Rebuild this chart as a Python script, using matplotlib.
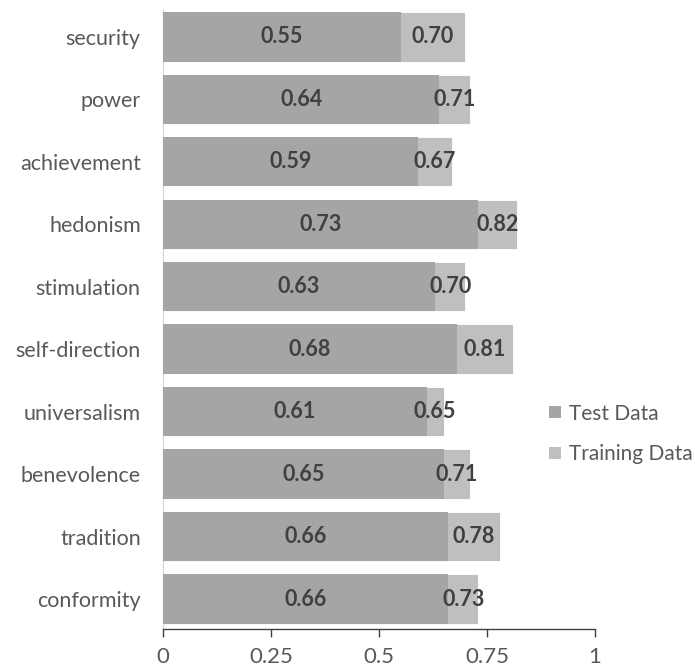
import matplotlib
matplotlib.use("Agg")
import matplotlib.pyplot as plt
import numpy as np
from matplotlib.patches import Patch

categories = ["security", "power", "achievement", "hedonism", "stimulation",
              "self-direction", "universalism", "benevolence", "tradition", "conformity"]
test_scores = [0.55, 0.64, 0.59, 0.73, 0.63, 0.68, 0.61, 0.65, 0.66, 0.66]
train_scores = [0.70, 0.71, 0.67, 0.82, 0.70, 0.81, 0.65, 0.71, 0.78, 0.73]
x_ticks = [0, 0.25, 0.5, 0.75, 1]
x_tick_labels = ["0", "0.25", "0.5", "0.75", "1"]

plt.rcParams["font.family"] = ["Lato", "DejaVu Sans"]

test_color = "#a5a5a5"
train_color = "#bfbfbf"
text_gray = "#595959"
value_color = "#404040"

fig = plt.figure(figsize=(6.95, 6.7), dpi=100)
ax = fig.add_axes([163 / 695, 1 - 629 / 670, (595 - 163) / 695, (629 - 10) / 670])

y = np.arange(len(categories))
bar_h = 0.79
ax.barh(y, train_scores, height=bar_h, color=train_color, edgecolor="white", linewidth=0.6, zorder=2)
ax.barh(y, test_scores, height=bar_h, color=test_color, edgecolor="none", zorder=3)

for yi, t, tr in zip(y, test_scores, train_scores):
    ax.text(t / 2, yi, f"{t:.2f}", ha="center", va="center", fontsize=15.5,
            fontweight="bold", color=value_color, zorder=4)
    ax.text((t + tr) / 2, yi, f"{tr:.2f}", ha="center", va="center", fontsize=15.5,
            fontweight="bold", color=value_color, zorder=4)

ax.set_xlim(0, 1)
ax.set_ylim(len(categories) - 1 + 0.48, -0.43)
ax.set_yticks(y)
ax.set_yticklabels(categories, fontsize=15.5, color=text_gray)
ax.tick_params(axis="y", length=0, pad=16)
ax.set_xticks(x_ticks)
ax.set_xticklabels(x_tick_labels, fontsize=16, color=text_gray)
ax.tick_params(axis="x", direction="out", length=6, width=1, color="#404040", pad=7)

for s in ["top", "right"]:
    ax.spines[s].set_visible(False)
ax.spines["left"].set_color("#d9d9d9")
ax.spines["left"].set_linewidth(1)
ax.spines["bottom"].set_color("#404040")
ax.spines["bottom"].set_linewidth(1)

handles = [Patch(facecolor=test_color, edgecolor="none"),
           Patch(facecolor=train_color, edgecolor="none")]
fig.legend(handles, ["Test Data", "Training Data"], loc="center left",
           bbox_to_anchor=(541 / 695, 1 - 434 / 670), frameon=False,
           fontsize=15, labelcolor=text_gray, handlelength=0.55, handleheight=0.55,
           handletextpad=0.4, labelspacing=1.0, borderaxespad=0)

fig.savefig("out.png", dpi=100)
